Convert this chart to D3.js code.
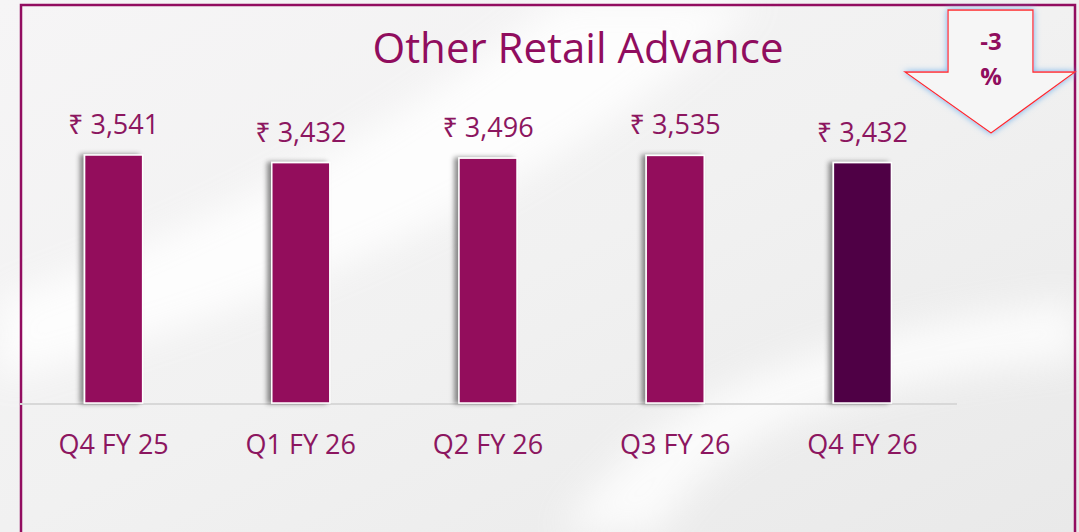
<!DOCTYPE html>
<html lang="en">
<head>
    <meta charset="UTF-8">
    <script src="https://cdn.jsdelivr.net/npm/d3@7"></script>
    <title>Other Retail Advance</title>
    <style>
        body { margin: 0; background: #f3f3f3; overflow: hidden; }
        text { font-family: "Open Sans", "Noto Sans", sans-serif; }
    </style>
</head>
<body>
<script>
    /*------------------- data --------------------*/
    const quarters = ["Q4 FY 25", "Q1 FY 26", "Q2 FY 26", "Q3 FY 26", "Q4 FY 26"];
    const advances = [3541, 3432, 3496, 3535, 3432];
    const changeLabel = ["-3", "%"];

    /*------------------- setup --------------------*/
    const width = 1079, height = 532;
    const plum = "#930c5c", dark = "#4f0045", textColor = "#8c1660";

    const svg = d3.select("body").append("svg")
        .attr("width", width)
        .attr("height", height);

    const defs = svg.append("defs");

    // soft background
    const bg = defs.append("linearGradient").attr("id", "bg")
        .attr("x1", 0).attr("y1", 0).attr("x2", 1).attr("y2", 1);
    bg.append("stop").attr("offset", "0%").attr("stop-color", "#f6f5f6");
    bg.append("stop").attr("offset", "50%").attr("stop-color", "#f1f1f1");
    bg.append("stop").attr("offset", "100%").attr("stop-color", "#e9e9e9");

    const blur = defs.append("filter").attr("id", "blur")
        .attr("x", "-20%").attr("y", "-20%").attr("width", "140%").attr("height", "140%");
    blur.append("feGaussianBlur").attr("stdDeviation", 18);

    const shadow = defs.append("filter").attr("id", "shadow")
        .attr("x", "-30%").attr("y", "-10%").attr("width", "160%").attr("height", "120%");
    shadow.append("feDropShadow").attr("dx", -4).attr("dy", 0)
        .attr("stdDeviation", 2.5).attr("flood-color", "#000").attr("flood-opacity", 0.45);

    const glow = defs.append("filter").attr("id", "glow")
        .attr("x", "-20%").attr("y", "-20%").attr("width", "140%").attr("height", "140%");
    glow.append("feDropShadow").attr("dx", 0).attr("dy", 0)
        .attr("stdDeviation", 3).attr("flood-color", "#6fb1ec").attr("flood-opacity", 1);

    svg.append("rect").attr("width", width).attr("height", height).attr("fill", "url(#bg)");

    // white swooshes
    svg.append("path")
        .attr("d", "M0,300 C200,230 380,140 560,0 L760,0 C600,150 380,280 0,380 Z")
        .attr("fill", "#ffffff").attr("opacity", 0.85).attr("filter", "url(#blur)");
    svg.append("path")
        .attr("d", "M560,532 C640,420 760,340 1079,300 L1079,360 C820,380 700,450 660,532 Z")
        .attr("fill", "#ffffff").attr("opacity", 0.8).attr("filter", "url(#blur)");

    // frame
    svg.append("path")
        .attr("d", "M21,540 L21,5 L1075,5 L1075,540")
        .attr("fill", "none").attr("stroke", "#920d60").attr("stroke-width", 2.5);

    /*------------------- scales --------------------*/
    const x = d3.scaleBand()
        .domain(quarters)
        .range([20, 956])
        .paddingInner(0.69)
        .paddingOuter(0.345);

    const y = d3.scaleLinear()
        .domain([0, 3541])
        .range([403, 155]);

    // baseline
    svg.append("line")
        .attr("x1", 20).attr("x2", 957)
        .attr("y1", y(0) + 1).attr("y2", y(0) + 1)
        .attr("stroke", "#d8d8d8").attr("stroke-width", 2);

    // bars
    svg.selectAll("rect.bar")
        .data(advances)
        .enter()
        .append("rect")
        .attr("class", "bar")
        .attr("x", (d, i) => x(quarters[i]))
        .attr("width", x.bandwidth())
        .attr("y", d => y(d))
        .attr("height", d => y(0) - y(d))
        .attr("fill", (d, i) => i === advances.length - 1 ? dark : plum)
        .attr("stroke", "#ffffff")
        .attr("stroke-width", 1.5)
        .attr("filter", "url(#shadow)");

    // value labels
    svg.selectAll("text.val")
        .data(advances)
        .enter()
        .append("text")
        .attr("class", "val")
        .attr("x", (d, i) => x(quarters[i]) + x.bandwidth() / 2)
        .attr("y", d => y(d) - 21)
        .attr("text-anchor", "middle")
        .attr("font-size", 27)
        .attr("fill", textColor)
        .text(d => "₹ " + d3.format(",")(d));

    // category axis
    const xAxis = svg.append("g")
        .attr("transform", `translate(0,${y(0)})`)
        .call(d3.axisBottom(x).tickSize(0).tickPadding(32));
    xAxis.select(".domain").remove();
    xAxis.selectAll("text")
        .attr("font-size", 27)
        .attr("font-family", "'Open Sans', 'Noto Sans', sans-serif")
        .attr("fill", textColor);

    // title
    svg.append("text")
        .attr("x", 578).attr("y", 63)
        .attr("text-anchor", "middle")
        .attr("font-size", 42)
        .attr("fill", "#900d5e")
        .text("Other Retail Advance");

    /*------------------- change arrow --------------------*/
    const arrow = svg.append("g");
    arrow.append("path")
        .attr("d", "M948,10 L1033,10 L1033,72 L1075,72 L991,133 L905,72 L948,72 Z")
        .attr("fill", "#f6f6f6")
        .attr("stroke", "#ff2a2a")
        .attr("stroke-width", 1.3)
        .attr("filter", "url(#glow)");
    arrow.selectAll("text")
        .data(changeLabel)
        .enter()
        .append("text")
        .attr("x", 991)
        .attr("y", (d, i) => 50 + i * 35)
        .attr("text-anchor", "middle")
        .attr("font-size", 24)
        .attr("font-weight", "bold")
        .attr("fill", "#900d5e")
        .text(d => d);
</script>
</body>
</html>
